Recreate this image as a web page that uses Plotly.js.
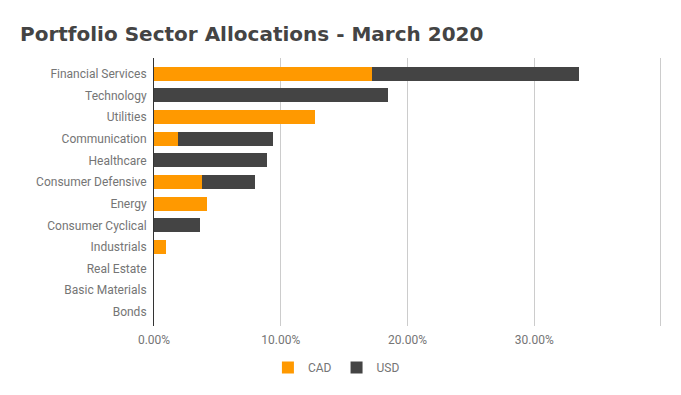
<!DOCTYPE html>
<html>
<head>
<meta charset="utf-8">
<script src="https://cdn.plot.ly/plotly-3.0.1.min.js"></script>
<style>html,body{margin:0;padding:0;background:#fff;}#chart{width:681px;height:395px;}</style>
</head>
<body>
<div id="chart"></div>
<script>
const categories = ["Financial Services","Technology","Utilities","Communication","Healthcare","Consumer Defensive","Energy","Consumer Cyclical","Industrials","Real Estate","Basic Materials","Bonds"];
const cadValues = [0.1723, 0, 0.1274, 0.0186, 0, 0.0377, 0.0416, 0, 0.0098, 0, 0, 0];
const usdValues = [0.1627, 0.1849, 0, 0.0754, 0.0888, 0.0416, 0, 0.0360, 0, 0, 0, 0];
const tickValues = [0, 0.1, 0.2, 0.3, 0.4];
const tickLabels = ["0.00%", "10.00%", "20.00%", "30.00%", ""];

const traces = [
  {type:"bar", orientation:"h", name:"CAD", y:categories, x:cadValues, marker:{color:"#FF9900"}, width:0.65, hoverinfo:"skip"},
  {type:"bar", orientation:"h", name:"USD", y:categories, x:usdValues, marker:{color:"#444444"}, width:0.65, hoverinfo:"skip"}
];

const layout = {
  width:681, height:395,
  paper_bgcolor:"#fff", plot_bgcolor:"#fff",
  margin:{l:154, r:19, t:58, b:69},
  barmode:"stack",
  font:{family:"Roboto, sans-serif", size:12, color:"#757575"},
  title:{text:"Portfolio Sector Allocations - March 2020", x:20/681, xanchor:"left", xref:"container",
         y:1-34/395, yanchor:"middle", yref:"container",
         font:{family:"DejaVu Sans, Verdana, sans-serif", size:20, color:"#444444", weight:"bold"}},
  xaxis:{range:[0,0.4008], tickvals:tickValues, ticktext:tickLabels, showgrid:true, gridcolor:"#cccccc", gridwidth:1,
         zeroline:false, showline:false, ticks:"", ticklabelstandoff:5, tickfont:{size:12, color:"#757575"}, fixedrange:true},
  yaxis:{type:"category", range:[11.65,-0.73], showgrid:false, zeroline:false, showline:true, linecolor:"#333333", linewidth:1,
         ticks:"", ticklabelstandoff:4, tickfont:{size:12, color:"#757575"}, fixedrange:true},
  showlegend:true,
  legend:{orientation:"h", xref:"container", yref:"container", x:0.494, xanchor:"center", y:1-367.5/395, yanchor:"middle",
          font:{size:12, color:"#757575"}, itemclick:false, itemdoubleclick:false, traceorder:"normal"}
};

Plotly.newPlot("chart", traces, layout, {displayModeBar:false, staticPlot:true});
</script>
</body>
</html>
